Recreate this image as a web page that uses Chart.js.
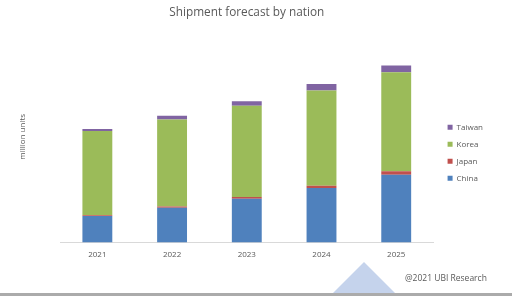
<!DOCTYPE html>
<html>
<head>
<meta charset="utf-8">
<title>Shipment forecast by nation</title>
<script src="https://cdn.jsdelivr.net/npm/chart.js@4"></script>
<style>
  html, body { margin: 0; padding: 0; background: #fff; }
  #wrap { position: relative; width: 512px; height: 296px; overflow: hidden; }
  #shipChart { position: absolute; left: 0; top: 0; }
  .credit { position: absolute; left: 405px; top: 272px; font: 8.5px "Open Sans", sans-serif; color: #595959; }
  .tri { position: absolute; left: 330px; top: 262px; width: 0; height: 0;
         border-left: 34px solid transparent; border-right: 34px solid transparent;
         border-bottom: 34px solid #c5d3ec; }
  .rule { position: absolute; left: 0; top: 293px; width: 512px; height: 3px; background: #ababab; }
</style>
</head>
<body>
<div id="wrap">
  <canvas id="shipChart" width="512" height="296"></canvas>
  <div class="tri"></div>
  <div class="rule"></div>
  <div class="credit">@2021 UBI Research</div>
</div>
<script>
// values (million units, relative)
const years = ["2021", "2022", "2023", "2024", "2025"];
const china = [26, 34.3, 43.3, 53.7, 67];
const japan = [0.8, 1.2, 1.7, 2.3, 3.3];
const korea = [83.3, 86.2, 90.3, 94.3, 98];
const taiwan = [2, 3.6, 4.4, 6.4, 6.7];

const grey = "#595959";
const font = "'Open Sans', sans-serif";

const ctx = document.getElementById("shipChart").getContext("2d");
new Chart(ctx, {
  type: "bar",
  data: {
    labels: years,
    datasets: [
      { label: "China", data: china, backgroundColor: "#4f81bd" },
      { label: "Japan", data: japan, backgroundColor: "#c0504d" },
      { label: "Korea", data: korea, backgroundColor: "#9bbb59" },
      { label: "Taiwan", data: taiwan, backgroundColor: "#8064a2" }
    ]
  },
  options: {
    responsive: false,
    animation: false,
    layout: { padding: { left: 14, right: 19, top: 4, bottom: 36 } },
    datasets: { bar: { categoryPercentage: 1, barPercentage: 0.4 } },
    scales: {
      x: {
        stacked: true,
        grid: { display: false },
        border: { color: "#d9d9d9" },
        ticks: { color: grey, font: { family: font, size: 8 }, padding: 0 }
      },
      y: {
        stacked: true,
        min: 0,
        max: 209,
        grid: { display: false },
        border: { display: false },
        ticks: { display: false },
        title: { display: true, text: "million units", color: grey, font: { family: font, size: 8 } },
        afterFit: (scale) => { scale.width = 46; }
      },
      // empty spacer between plot and legend
      gap: {
        type: "linear",
        position: "right",
        grid: { display: false },
        border: { display: false },
        ticks: { display: false },
        afterFit: (scale) => { scale.width = 5; }
      }
    },
    plugins: {
      title: {
        display: true,
        fullSize: false,
        text: "Shipment forecast by nation",
        color: grey,
        font: { family: font, size: 11.8, weight: "normal" },
        padding: { top: 2, bottom: 11 }
      },
      legend: {
        position: "right",
        reverse: true,
        title: { display: true, text: " ", font: { size: 8 }, padding: { top: 16, bottom: 16 } },
        labels: {
          color: grey,
          font: { family: font, size: 8 },
          boxWidth: 5,
          boxHeight: 5,
          padding: 9
        }
      },
      tooltip: { enabled: false }
    }
  }
});
</script>
</body>
</html>
